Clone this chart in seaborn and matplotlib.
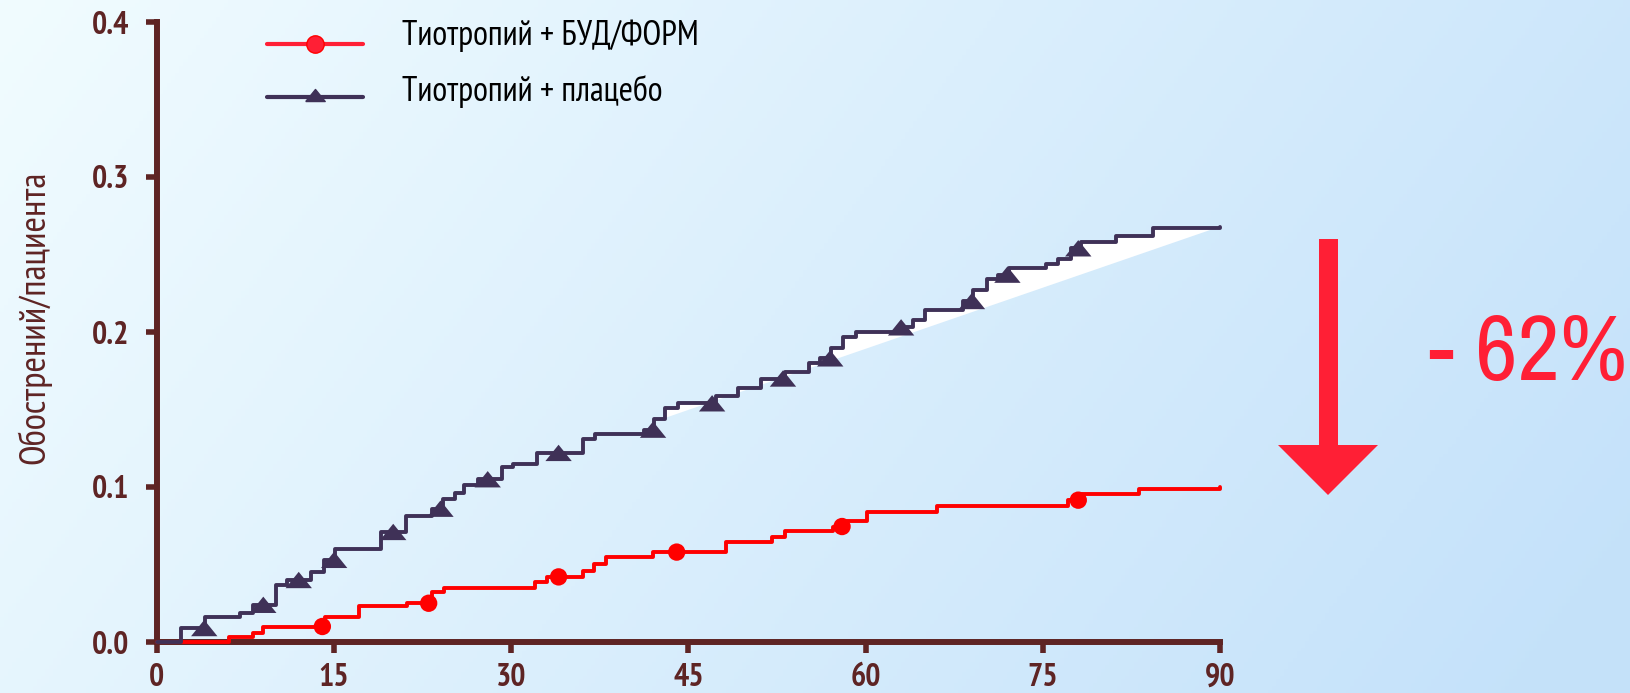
import numpy as np
import pandas as pd
import matplotlib
matplotlib.use("Agg")
import matplotlib.pyplot as plt
import seaborn as sns
from matplotlib.patches import Polygon
from matplotlib.lines import Line2D
from matplotlib import font_manager
from matplotlib.font_manager import FontProperties
from matplotlib.ft2font import FT2Font

# Cumulative exacerbations per patient (step curves), day of change -> value
placebo_days = [0, 2, 4.1, 7, 8.1, 10.1, 11, 13, 14.1, 15.1, 19, 21.1, 23.3, 24.2,
                25.2, 26, 27.2, 29.2, 30.1, 32.2, 36.1, 37.1, 41.2, 42.1, 43, 44.1,
                47.3, 49.2, 51.1, 53.2, 55.2, 56.1, 57.1, 58.1, 59.2, 62.7, 64, 65,
                68.2, 69.1, 70.3, 71.2, 72.1, 75.3, 76.3, 77.4, 78.2, 81.2, 84.3, 90]
placebo_rate = [0, 0.009, 0.016, 0.019, 0.024, 0.037, 0.040, 0.045, 0.053, 0.060,
                0.071, 0.081, 0.086, 0.092, 0.096, 0.101, 0.105, 0.113, 0.115, 0.122,
                0.131, 0.134, 0.137, 0.144, 0.151, 0.154, 0.159, 0.164, 0.170, 0.174,
                0.180, 0.183, 0.190, 0.197, 0.200, 0.203, 0.208, 0.214, 0.220, 0.227,
                0.234, 0.237, 0.241, 0.244, 0.247, 0.254, 0.258, 0.262, 0.267, 0.268]

budform_days = [0, 6.1, 8.1, 9, 14.2, 17.1, 21.2, 23.3, 24.3, 32, 33, 36.1, 37, 38,
                42, 48.2, 52.1, 53.2, 57.2, 58.4, 60.1, 66, 77.1, 78.2, 83.1, 90]
budform_rate = [0, 0.003, 0.006, 0.010, 0.016, 0.023, 0.025, 0.032, 0.035, 0.039,
                0.042, 0.046, 0.0505, 0.055, 0.058, 0.0645, 0.068, 0.0715, 0.0745,
                0.078, 0.084, 0.088, 0.0915, 0.0955, 0.099, 0.100]

placebo_mark_days = [4, 9, 12, 15, 20, 24, 28, 34, 42, 47, 53, 57, 63, 69, 72, 78]
budform_mark_days = [14, 23, 34, 44, 58, 78]

x_ticks = [0, 15, 30, 45, 60, 75, 90]
y_ticks = [0.0, 0.1, 0.2, 0.3, 0.4]
series_labels = ["Тиотропий + БУД/ФОРМ", "Тиотропий + плацебо"]
y_label = "Обострений/пациента"
reduction_label = "- 62%"
chord_start_day = 39

# Colours
AXIS_COL = "#5e2424"
RED = "#ff0000"
RED_LEGEND = "#ff1f35"
DARK = "#3f3157"

sns.set_theme(style="white")
plt.rcParams["font.family"] = ["Liberation Sans", "DejaVu Sans"]

_cover_cache = {}


def covers(fname, text):
    if fname not in _cover_cache:
        try:
            _cover_cache[fname] = set(FT2Font(fname).get_charmap().keys())
        except Exception:
            _cover_cache[fname] = set()
    cmap = _cover_cache[fname]
    return all(ord(c) in cmap for c in text if not c.isspace())


def pick_narrow(bold, sample):
    """Find a condensed sans face that has every glyph of the sample text."""
    fonts = font_manager.fontManager.ttflist

    def ok_weight(f):
        w = f.weight if isinstance(f.weight, int) else (700 if "bold" in str(f.weight).lower() else 400)
        return (w >= 600) == bold and f.style == "normal"

    prefs = [
        lambda f: f.name == "Liberation Sans Narrow",
        lambda f: "narrow" in f.name.lower() or "narrow" in f.fname.lower(),
        lambda f: "condensed" in f.name.lower() and "sans" in f.name.lower(),
        lambda f: str(f.stretch) in ("condensed", "semi-condensed") and "sans" in f.name.lower(),
        lambda f: "condensed" in f.fname.lower() and "sans" in f.fname.lower(),
    ]
    for p in prefs:
        for f in fonts:
            if p(f) and ok_weight(f) and covers(f.fname, sample):
                return FontProperties(fname=f.fname)
    return FontProperties(family=["Liberation Sans", "DejaVu Sans"],
                          weight="bold" if bold else "normal")


cyr_sample = "".join(series_labels) + y_label
fp_bold = pick_narrow(True, "0123456789.")
fp_num = pick_narrow(False, reduction_label)
fp_reg = pick_narrow(False, cyr_sample)

W, H = 1631, 693
fig = plt.figure(figsize=(W / 100, H / 100), dpi=100)


def fx(px):
    return px / W


def fy(py):
    return 1 - py / H


# Soft gradient background
bg = fig.add_axes([0, 0, 1, 1], zorder=-10)
gx, gy = np.meshgrid(np.linspace(0, 1, 400), np.linspace(0, 1, 200))
t = np.clip(0.8 * gx + 0.25 * gy, 0, 1)
c0 = np.array([0.945, 0.988, 1.0])
c1 = np.array([0.77, 0.885, 0.98])
img = c0[None, None, :] * (1 - t[..., None]) + c1[None, None, :] * t[..., None]
bg.imshow(img, aspect="auto", extent=[0, 1, 0, 1], origin="upper")
bg.axis("off")

ax = fig.add_axes([fx(157), fy(642), fx(1220) - fx(157), fy(22) - fy(642)])
ax.set_facecolor("none")


def step_value(days, rates, at):
    idx = np.searchsorted(np.asarray(days), np.asarray(at), side="right") - 1
    return np.asarray(rates)[idx]


placebo = pd.DataFrame({"day": placebo_days, "rate": placebo_rate})
budform = pd.DataFrame({"day": budform_days, "rate": budform_rate})

# White wedge between the placebo steps and its chord
xs = np.linspace(chord_start_day, placebo_days[-1], 6000)
upper = step_value(placebo_days, placebo_rate, xs)
y0 = step_value(placebo_days, placebo_rate, [chord_start_day])[0]
chord = y0 + (placebo_rate[-1] - y0) * (xs - chord_start_day) / (placebo_days[-1] - chord_start_day)
ax.fill_between(xs, chord, upper, where=upper >= chord, color="white", lw=0, zorder=2.6)

sns.lineplot(data=budform, x="day", y="rate", drawstyle="steps-post", estimator=None,
             color=RED, lw=2.8, ax=ax, zorder=3, clip_on=False)
sns.lineplot(data=placebo, x="day", y="rate", drawstyle="steps-post", estimator=None,
             color=DARK, lw=2.8, ax=ax, zorder=4, clip_on=False)

tri = [(-1, -0.62), (1, -0.62), (0, 0.62), (-1, -0.62)]
sns.scatterplot(x=budform_mark_days,
                y=step_value(budform_days, budform_rate, budform_mark_days),
                marker="o", s=12.5 ** 2, color=RED, edgecolor="none", ax=ax, zorder=5,
                clip_on=False)
sns.scatterplot(x=placebo_mark_days,
                y=step_value(placebo_days, placebo_rate, placebo_mark_days),
                marker=tri, s=19 ** 2, color=DARK, edgecolor="none", ax=ax, zorder=5,
                clip_on=False)

ax.set_xlim(0, 90)
ax.set_ylim(0, 0.4)
ax.set_xticks(x_ticks)
ax.set_xticklabels([str(v) for v in x_ticks])
ax.set_yticks(y_ticks)
ax.set_yticklabels([f"{v:.1f}" for v in y_ticks])
ax.set_xlabel("")
ax.set_ylabel("")
for side in ("top", "right"):
    ax.spines[side].set_visible(False)
for side in ("left", "bottom"):
    ax.spines[side].set_color(AXIS_COL)
    ax.spines[side].set_linewidth(4.3)
    ax.spines[side].set_capstyle("projecting")
ax.tick_params(axis="both", direction="out", length=8, width=4, color=AXIS_COL,
               labelcolor=AXIS_COL, left=True, bottom=True)
ax.tick_params(axis="x", pad=7)
ax.tick_params(axis="y", pad=12)
for lab in ax.get_xticklabels() + ax.get_yticklabels():
    lab.set_fontproperties(fp_bold)
    lab.set_fontsize(23)

texts = []
ylab = fig.text(fx(34), fy(317), y_label, rotation=90, ha="center", va="center",
                fontproperties=fp_reg, fontsize=24, color=AXIS_COL)
texts.append((ylab, 312, "h"))

# Legend
fig.add_artist(Line2D([fx(267), fx(363)], [fy(44), fy(44)], color=RED_LEGEND, lw=3.0))
fig.add_artist(Line2D([fx(315)], [fy(44)], color=RED_LEGEND, marker="o",
                      markersize=12.5, markeredgecolor=RED, markeredgewidth=1, lw=0))
fig.add_artist(Line2D([fx(267), fx(363)], [fy(97), fy(97)], color=DARK, lw=3.0))
fig.add_artist(Line2D([fx(315)], [fy(95)], color=DARK, marker=tri, markersize=14, lw=0))
leg1 = fig.text(fx(402), fy(45), series_labels[0], fontproperties=fp_reg, fontsize=22,
                color="black", va="baseline")
leg2 = fig.text(fx(402), fy(101), series_labels[1], fontproperties=fp_reg, fontsize=22,
                color="black", va="baseline")
texts += [(leg1, 297, "w"), (leg2, 261, "w")]

# Reduction arrow and label
arrow = Polygon([(fx(1319), fy(239)), (fx(1338), fy(239)), (fx(1338), fy(445)),
                 (fx(1378), fy(445)), (fx(1328), fy(495)), (fx(1278), fy(445)),
                 (fx(1319), fy(445))], closed=True, transform=fig.transFigure,
                facecolor=RED_LEGEND, edgecolor="none")
fig.add_artist(arrow)
pct = fig.text(fx(1429), fy(380), reduction_label, fontproperties=fp_num, fontsize=72,
               color=RED_LEGEND, ha="left", va="baseline")
texts.append((pct, 198, "w"))

# Fit the long labels to their span, within a modest size range
fig.canvas.draw()
renderer = fig.canvas.get_renderer()
for txt, target, dim in texts:
    bb = txt.get_window_extent(renderer)
    size = bb.height if dim == "h" else bb.width
    factor = float(np.clip(target / size, 0.7, 1.12))
    txt.set_fontsize(txt.get_fontsize() * factor)

fig.savefig("out.png", dpi=100)
